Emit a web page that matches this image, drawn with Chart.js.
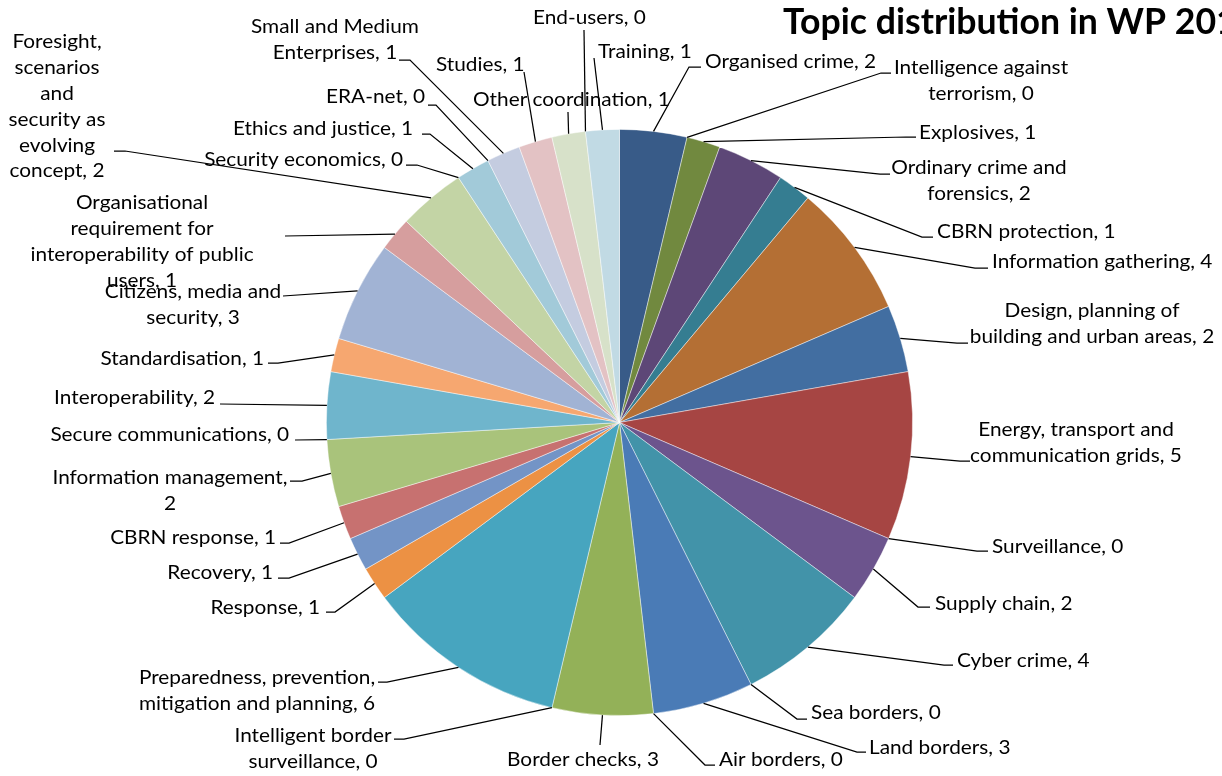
<!DOCTYPE html>
<html>
<head>
<meta charset="utf-8">
<script src="https://cdn.jsdelivr.net/npm/chart.js@4.4.1/dist/chart.umd.min.js"></script>
<style>
  html, body { margin: 0; padding: 0; background: #fff; overflow: hidden; }
  #wrap { width: 1222px; height: 776px; position: relative; }
</style>
</head>
<body>
<div id="wrap"><canvas id="chart" width="1222" height="776"></canvas></div>
<script>
// Topics of the work programme, clockwise from twelve o'clock
const topics = [
  "Organised crime", "Intelligence against terrorism", "Explosives",
  "Ordinary crime and forensics", "CBRN protection", "Information gathering",
  "Design, planning of building and urban areas", "Energy, transport and communication grids",
  "Surveillance", "Supply chain", "Cyber crime", "Sea borders", "Land borders",
  "Air borders", "Border checks", "Intelligent border surveillance",
  "Preparedness, prevention, mitigation and planning", "Response", "Recovery",
  "CBRN response", "Information management", "Secure communications",
  "Interoperability", "Standardisation", "Citizens, media and security",
  "Organisational requirement for interoperability of public users",
  "Foresight, scenarios and security as evolving concept", "Security economics",
  "Ethics and justice", "ERA-net", "Small and Medium Enterprises", "Studies",
  "Other coordination", "End-users", "Training"
];

// Number of topics per theme
const counts = [2, 0, 1, 2, 1, 4, 2, 5, 0, 2, 4, 0, 3, 0, 3, 0, 6, 1, 1, 1, 2, 0, 2, 1, 3, 1, 2, 0, 1, 0, 1, 1, 1, 0, 1];

const sliceColours = [
  "#385B88", "#4F81BD", "#71893F", "#5D4777", "#357D91", "#B46F34",
  "#426EA1", "#A64543", "#8064A2", "#6C548D", "#4293A9", "#4BACC6", "#4A7BB6",
  "#F79646", "#93B158", "#4F81BD", "#47A5BF", "#EC9144", "#7394C6",
  "#C77170", "#A9C37B", "#9BBB59", "#6FB5CC", "#F6A770", "#A1B3D4",
  "#D69E9E", "#C3D4A5", "#4BACC6", "#A2CAD9", "#4F81BD", "#C4CCE0", "#E3C2C4",
  "#D7E1C9", "#8064A2", "#C1DAE4"
];

// Words per text line for the labels that wrap
const lineBreaks = {
  1: [2, 2], 3: [3, 2], 6: [3, 5], 7: [3, 3], 15: [2, 2], 16: [2, 4],
  20: [2, 1], 24: [3, 2], 25: [1, 2, 3, 2], 26: [1, 1, 1, 2, 1, 2], 30: [3, 2]
};

// Label placement: [x, y of first line, alignment] and leader line bends
const labelAnchor = [
  [705, 62, "left"], [981, 68, "center"], [919, 133, "left"], [979, 168, "center"],
  [937, 232, "left"], [992, 262, "left"], [1092, 311, "center"], [1076, 430, "center"],
  [992, 547, "left"], [935, 604, "left"], [957, 661, "left"], [811, 713, "left"],
  [869, 748, "left"], [719, 760, "left"], [583, 760, "center"], [313, 736, "center"],
  [257, 678, "center"], [320, 608, "right"], [273, 573, "right"], [276, 538, "right"],
  [170, 478, "center"], [289, 435, "right"], [215, 398, "right"], [264, 359, "right"],
  [193, 292, "center"], [142, 203, "center"], [57, 42, "center"], [403, 160, "right"],
  [413, 129, "right"], [425, 97, "right"], [335, 27, "center"], [436, 65, "left"],
  [473, 100, "left"], [533, 18, "left"], [598, 52, "left"]
];
const leaderBends = [
  [[689, 67], [701, 67]], [[881, 73], [891, 73]], [[906, 137], [916, 137]], [[880, 174], [890, 174]],
  [[922, 237], [933, 237]], [[975, 268], [988, 268]], [[957, 343], [968, 343]], [[960, 461], [970, 461]],
  [[977, 551], [988, 551]], [[918, 607], [930, 607]], [[944, 665], [953, 665]], [[797, 719], [807, 719]],
  [[857, 752], [866, 752]], [[705, 765], [715, 765]], [[600, 745]], [[404, 739], [394, 739]],
  [[387, 682], [378, 682]], [[335, 612], [326, 612]], [[289, 578], [278, 578]], [[289, 543], [280, 543]],
  [[302, 481], [290, 481]], [[295, 440]], [[220, 404]], [[278, 363], [268, 363]],
  [[283, 296]], [[285, 236]], [[125, 151], [114, 151]], [[417, 165], [406, 165]],
  [[430, 134], [422, 134]], [[436, 105], [428, 105]], [[410, 60], [399, 60]], [[524, 72]],
  [[568, 112]], [[584, 30]], [[594, 58]]
];

const FONT = "Lato, 'Open Sans', sans-serif";
const LINE_H = 25.8;

function labelLines(i) {
  const words = (topics[i] + ", " + counts[i]).split(" ");
  const br = lineBreaks[i];
  if (!br) return [words.join(" ")];
  const out = [];
  let k = 0;
  for (const n of br) { out.push(words.slice(k, k + n).join(" ")); k += n; }
  return out;
}

function drawText(ctx, text, x, y, align, sx) {
  ctx.save();
  ctx.translate(x, y);
  ctx.scale(sx, 1);
  ctx.textAlign = align;
  ctx.fillText(text, 0, 0);
  ctx.restore();
}

const calloutPlugin = {
  id: "callouts",
  afterDatasetsDraw(chart) {
    const ctx = chart.ctx;
    const meta = chart.getDatasetMeta(0);
    ctx.save();
    ctx.strokeStyle = "#000";
    ctx.lineWidth = 1.25;
    ctx.fillStyle = "#000";
    ctx.font = "20px " + FONT;
    ctx.textBaseline = "middle";
    meta.data.forEach((arc, i) => {
      const p = arc.getProps(["x", "y", "startAngle", "endAngle", "outerRadius"], true);
      const mid = (p.startAngle + p.endAngle) / 2;
      const ex = p.x + Math.cos(mid) * p.outerRadius;
      const ey = p.y + Math.sin(mid) * p.outerRadius;
      ctx.beginPath();
      ctx.moveTo(ex, ey);
      leaderBends[i].forEach(pt => ctx.lineTo(pt[0], pt[1]));
      ctx.stroke();
      const [lx, ly, align] = labelAnchor[i];
      labelLines(i).forEach((t, j) => drawText(ctx, t, lx, ly + j * LINE_H, align, 1.04));
    });
    // chart title
    ctx.font = "bold 36px " + FONT;
    ctx.textBaseline = "alphabetic";
    drawText(ctx, "Topic distribution in WP 2013", 783, 34, "left", 0.99);
    ctx.restore();
  }
};

new Chart(document.getElementById("chart"), {
  type: "pie",
  data: {
    labels: topics,
    datasets: [{
      data: counts,
      backgroundColor: sliceColours,
      borderColor: "rgba(255,255,255,0.55)",
      borderWidth: c => (counts[c.dataIndex] === 0 ? 0 : 0.8)
    }]
  },
  options: {
    responsive: false,
    animation: false,
    devicePixelRatio: 1,
    layout: { padding: { left: 326, right: 309, top: 129, bottom: 60 } },
    plugins: {
      legend: { display: false },
      tooltip: { enabled: false },
      title: { display: false }
    }
  },
  plugins: [calloutPlugin]
});
</script>
</body>
</html>
